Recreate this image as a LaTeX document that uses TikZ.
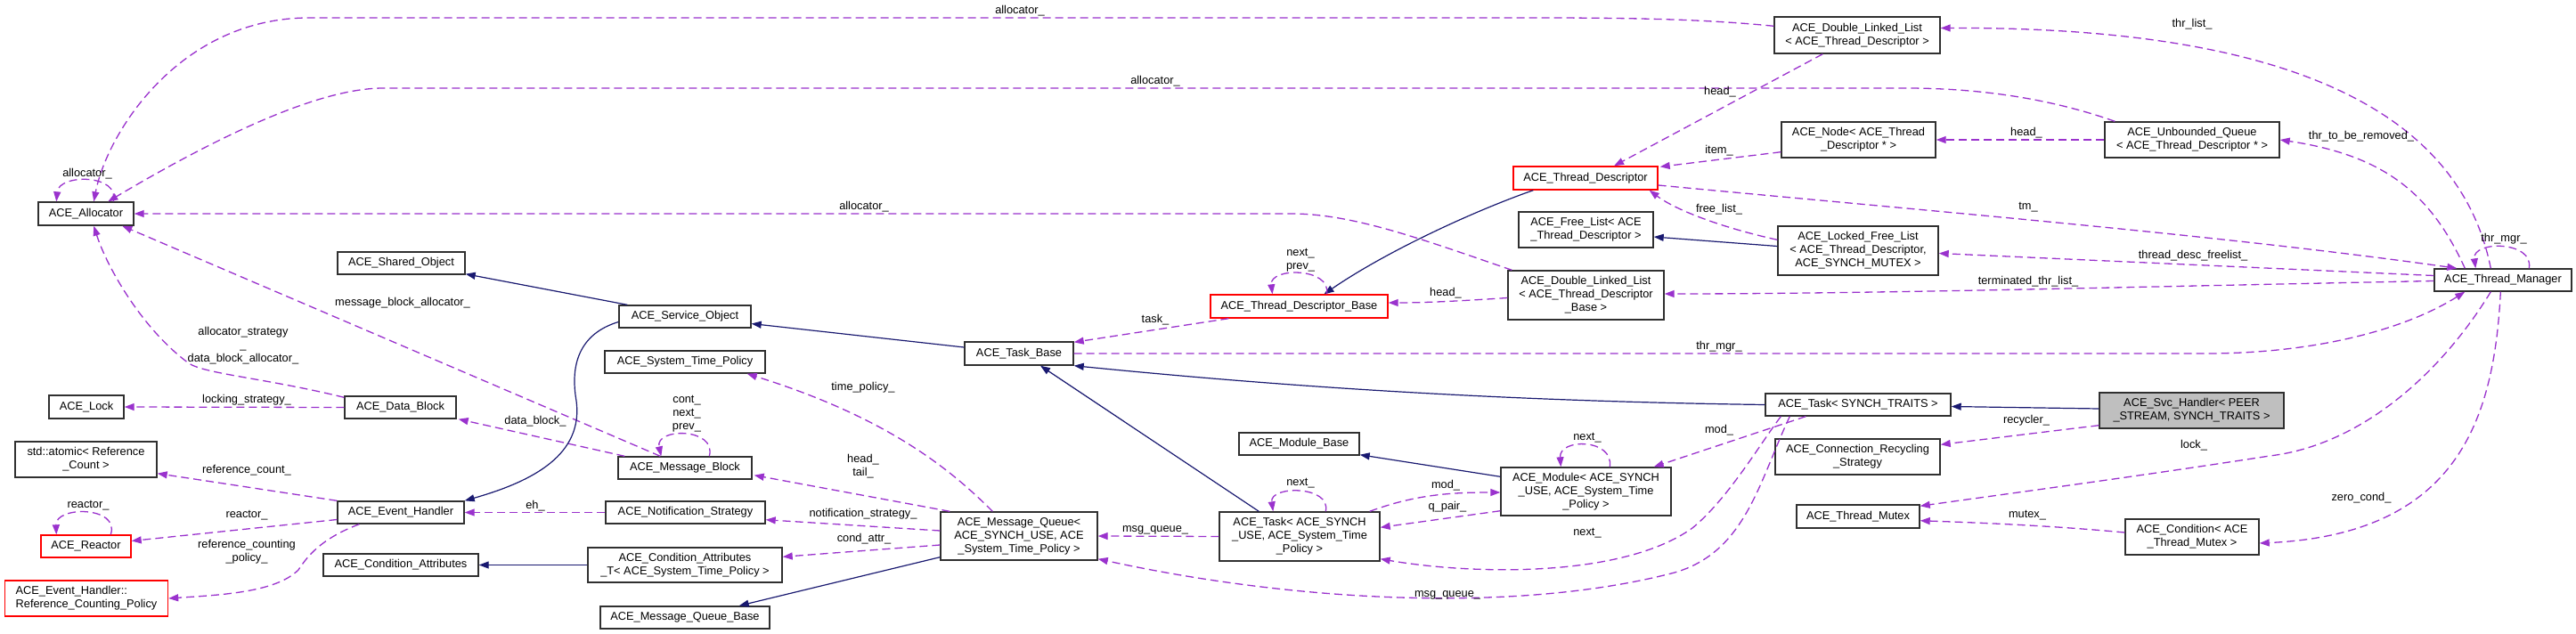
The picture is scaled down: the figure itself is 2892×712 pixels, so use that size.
\documentclass[tikz,border=0pt]{standalone}
\usepackage{fontspec}
\setmainfont{Liberation Sans}
\usetikzlibrary{arrows.meta,calc}
\definecolor{purp}{HTML}{9A32CD}
\definecolor{navyb}{HTML}{191970}
\definecolor{bord}{HTML}{303030}
\definecolor{gfill}{HTML}{BFBFBF}
\newcommand{\dxfont}{\fontsize{12.8pt}{15pt}\selectfont}
\tikzset{
  bx/.style={draw=bord, line width=1.4pt, inner sep=0pt, align=center, font=\dxfont, fill=white},
  redbx/.style={bx, draw=red},
  lab/.style={inner sep=0pt, align=center, font=\dxfont},
  ref/.style={draw=purp, line width=1.3pt, dash pattern=on 9pt off 5pt, -{Triangle[length=11pt,width=8pt]}},
  inh/.style={draw=navyb, line width=1.2pt, -{Triangle[length=11pt,width=8pt]}}
}
\begin{document}
\begin{tikzpicture}[x=1pt,y=-1pt]
\useasboundingbox (0,0) rectangle (2892,712);
% nodes
\node[bx, minimum width=107pt, minimum height=26pt] (alloc) at (96.5,240) {ACE\_Allocator};
\node[bx, minimum width=143pt, minimum height=25pt] (shared) at (450.5,295.5) {ACE\_Shared\_Object};
\node[bx, minimum width=148pt, minimum height=25pt] (service) at (769,355.5) {ACE\_Service\_Object};
\node[bx, minimum width=84pt, minimum height=26pt] (lock) at (97,457) {ACE\_Lock};
\node[bx, minimum width=125pt, minimum height=25pt] (datablock) at (449.5,457.5) {ACE\_Data\_Block};
\node[bx, minimum width=159pt, minimum height=40pt] (atomic) at (96.5,516) {std::atomic< Reference\\\_Count >};
\node[bx, minimum width=142pt, minimum height=25pt] (evh) at (450,575.5) {ACE\_Event\_Handler};
\node[redbx, minimum width=101pt, minimum height=25pt] (reactor) at (96.5,613.5) {ACE\_Reactor};
\node[redbx, minimum width=183pt, minimum height=40pt, align=left] (rcp) at (97,672) {ACE\_Event\_Handler::\\Reference\_Counting\_Policy};
\node[bx, minimum width=174pt, minimum height=25pt] (condattr) at (450,634.5) {ACE\_Condition\_Attributes};
\node[bx, minimum width=180pt, minimum height=25pt] (stp) at (769,406.5) {ACE\_System\_Time\_Policy};
\node[bx, minimum width=150pt, minimum height=25pt] (msgblock) at (769,525.5) {ACE\_Message\_Block};
\node[bx, minimum width=179pt, minimum height=25pt] (notif) at (769.5,575.5) {ACE\_Notification\_Strategy};
\node[bx, minimum width=218pt, minimum height=39pt] (condattrT) at (769,634.5) {ACE\_Condition\_Attributes\\\_T< ACE\_System\_Time\_Policy >};
\node[bx, minimum width=190pt, minimum height=25pt] (mqbase) at (769,693.5) {ACE\_Message\_Queue\_Base};
\node[bx, minimum width=122pt, minimum height=26pt] (taskbase) at (1144,397) {ACE\_Task\_Base};
\node[bx, minimum width=176pt, minimum height=54pt] (mq) at (1144,602) {ACE\_Message\_Queue<\\ACE\_SYNCH\_USE, ACE\\\_System\_Time\_Policy >};
\node[redbx, minimum width=199pt, minimum height=26pt] (tdb) at (1458.5,344) {ACE\_Thread\_Descriptor\_Base};
\node[bx, minimum width=135pt, minimum height=25pt] (modbase) at (1458.5,498.5) {ACE\_Module\_Base};
\node[bx, minimum width=180pt, minimum height=55pt] (taskS) at (1459,602.5) {ACE\_Task< ACE\_SYNCH\\\_USE, ACE\_System\_Time\\\_Policy >};
\node[redbx, minimum width=162pt, minimum height=26pt] (td) at (1780,200) {ACE\_Thread\_Descriptor};
\node[bx, minimum width=151pt, minimum height=40pt] (freelist) at (1780.5,258) {ACE\_Free\_List< ACE\\\_Thread\_Descriptor >};
\node[bx, minimum width=175pt, minimum height=55pt] (dllb) at (1780.5,331.5) {ACE\_Double\_Linked\_List\\< ACE\_Thread\_Descriptor\\\_Base >};
\node[bx, minimum width=191pt, minimum height=54pt] (module) at (1780.5,552) {ACE\_Module< ACE\_SYNCH\\\_USE, ACE\_System\_Time\\\_Policy >};
\node[bx, minimum width=186pt, minimum height=41pt] (dlltd) at (2085,39.5) {ACE\_Double\_Linked\_List\\< ACE\_Thread\_Descriptor >};
\node[bx, minimum width=173pt, minimum height=40pt] (node) at (2086.5,157) {ACE\_Node< ACE\_Thread\\\_Descriptor * >};
\node[bx, minimum width=180pt, minimum height=55pt] (lfl) at (2086,281.5) {ACE\_Locked\_Free\_List\\< ACE\_Thread\_Descriptor,\\ ACE\_SYNCH\_MUTEX >};
\node[bx, minimum width=208pt, minimum height=25pt] (taskT) at (2086,454.5) {ACE\_Task< SYNCH\_TRAITS >};
\node[bx, minimum width=185pt, minimum height=40pt] (crs) at (2085.5,513) {ACE\_Connection\_Recycling\\\_Strategy};
\node[bx, minimum width=138pt, minimum height=26pt] (mutex) at (2086,580) {ACE\_Thread\_Mutex};
\node[bx, minimum width=196pt, minimum height=40pt] (uq) at (2461,157) {ACE\_Unbounded\_Queue\\< ACE\_Thread\_Descriptor * >};
\node[bx, fill=gfill, minimum width=207pt, minimum height=40pt] (svc) at (2460.5,461) {ACE\_Svc\_Handler< PEER\\\_STREAM, SYNCH\_TRAITS >};
\node[bx, minimum width=150pt, minimum height=40pt] (cond) at (2461,603) {ACE\_Condition< ACE\\\_Thread\_Mutex >};
\node[bx, minimum width=154pt, minimum height=25pt] (tm) at (2810,314.5) {ACE\_Thread\_Manager};
% edges
\draw[ref] ($(dlltd.north west)+(0,11)$) .. controls (1900,20) and (1800,20) .. (1700,20) -- (344,20) .. controls (200,22) and (120,150) .. ($(alloc.north west)+(63,0)$);
\draw[ref] ($(uq.north west)+(12,0)$) .. controls (2300,110) and (2220,99) .. (2140,99) -- (430,99) .. controls (360,99) and (250,150) .. ($(alloc.north west)+(79,0)$);
\draw[ref] ($(alloc.north west)+(85,0)$) .. controls (135,195) and (66,195) .. ($(alloc.north west)+(21,0)$);
\draw[ref] ($(dllb.north west)+(5,0)$) .. controls (1600,270) and (1520,240) .. (1450,240) -- (alloc.east);
\draw[ref] ($(msgblock.north west)+(48,0)$) -- ($(alloc.south west)+(95,0)$);
\draw[ref] ($(msgblock.north west)+(103,0)$) .. controls (805,480) and (735,480) .. ($(msgblock.north west)+(49,0)$);
\draw[ref] ($(datablock.north west)+(0,2)$) .. controls (300,425) and (230,420) .. (212,408) .. controls (160,370) and (120,300) .. ($(alloc.south west)+(63,0)$);
\draw[ref] (datablock.west) -- (lock.east);
\draw[ref] ($(msgblock.north west)+(8,0)$) -- ($(datablock.south east)+(2,0)$);
\draw[ref] (evh.north west) -- ($(atomic.south east)+(0,-5)$);
\draw[ref] ($(evh.west)+(0,8)$) -- ($(reactor.east)+(0,-6)$);
\draw[ref] ($(reactor.north west)+(79,0)$) .. controls (135,568) and (62,568) .. ($(reactor.north west)+(18,0)$);
\draw[ref] ($(evh.south west)+(25,0)$) .. controls (360,605) and (345,625) .. (335,640) .. controls (310,665) and (250,668) .. (rcp.east);
\draw[ref] (notif.west) -- (evh.east);
\draw[inh] (condattrT.west) -- (condattr.east);
\draw[inh] ($(service.north west)+(10,0)$) -- ($(shared.south east)+(0,-1)$);
\draw[inh] ($(service.west)+(0,6)$) .. controls (650,375) and (640,410) .. (647,450) .. controls (655,510) and (600,540) .. (evh.north east);
\draw[ref] ($(mq.north west)+(59,0)$) .. controls (1070,530) and (1000,470) .. ($(stp.south east)+(-21,0)$);
\draw[ref] ($(mq.north west)+(11,0)$) -- ($(msgblock.south east)+(2,-5)$);
\draw[ref] ($(mq.west)+(0,-6)$) -- ($(notif.south east)+(0,-5)$);
\draw[ref] ($(mq.west)+(0,10)$) -- ($(condattrT.north east)+(0,11)$);
\draw[inh] ($(mq.south west)+(0,-4)$) -- ($(mqbase.north east)+(-35,0)$);
\draw[inh] ($(taskbase.west)+(0,-7)$) -- ($(service.east)+(0,8)$);
\draw[ref] ($(tdb.south west)+(21,0)$) -- ($(taskbase.north east)+(0,1)$);
\draw[ref] (taskbase.east) -- (2476,397) .. controls (2600,397) and (2700,370) .. ($(tm.south west)+(35,0)$);
\draw[inh] (taskT.west) .. controls (1650,450) and (1400,430) .. (taskbase.south east);
\draw[inh] ($(taskS.north west)+(45,0)$) -- ($(taskbase.south)+(24,0)$);
\draw[ref] (taskS.west) -- (mq.east);
\draw[ref] ($(taskS.north west)+(120,0)$) .. controls (1495,545) and (1425,545) .. ($(taskS.north west)+(61,0)$);
\draw[inh] ($(module.north west)+(0,11)$) -- ($(modbase.south east)+(0,-1)$);
\draw[ref] ($(taskS.north east)+(-12,0)$) .. controls (1590,555) and (1630,553) .. ($(module.west)+(0,1)$);
\draw[ref] ($(module.south west)+(0,-6)$) -- ($(taskS.north east)+(0,18)$);
\draw[ref] ($(module.north west)+(123,0)$) .. controls (1812,492) and (1750,492) .. ($(module.north west)+(68,0)$);
\draw[ref] ($(taskT.south west)+(46,0)$) -- ($(module.north east)+(-20,0)$);
\draw[ref] ($(taskT.south west)+(18,0)$) .. controls (1975,500) and (1940,560) .. (1900,593) .. controls (1820,650) and (1650,645) .. ($(taskS.south east)+(0,-3)$);
\draw[ref] ($(taskT.south west)+(28,0)$) .. controls (1975,540) and (1960,620) .. (1880,643) .. controls (1700,690) and (1450,675) .. ($(mq.south east)+(0,-2)$);
\draw[ref] ($(dlltd.south west)+(55,0)$) -- ($(td.north)+(32,0)$);
\draw[ref] ($(node.south west)+(0,-7)$) -- ($(td.north east)+(2,1)$);
\draw[ref] ($(td.east)+(0,8)$) .. controls (2200,240) and (2500,265) .. ($(tm.north west)+(26,0)$);
\draw[ref] ($(lfl.north west)+(0,16)$) .. controls (1930,255) and (1880,235) .. ($(td.south east)+(-10,0)$);
\draw[inh] ($(lfl.west)+(0,-5)$) -- ($(freelist.east)+(0,8)$);
\draw[inh] ($(td.south west)+(23,0)$) .. controls (1660,235) and (1560,280) .. ($(tdb.north)+(28,0)$);
\draw[ref] ($(tdb.north)+(31,0)$) .. controls (1495,300) and (1425,300) .. ($(tdb.north)+(-30,0)$);
\draw[ref] ($(dllb.west)+(0,3)$) .. controls (1640,338) and (1600,340) .. ($(tdb.east)+(0,-4)$);
\draw[ref] ($(tm.north west)+(64,0)$) .. controls (2760,120) and (2560,30) .. ($(dlltd.east)+(0,-8)$);
\draw[ref] (uq.west) -- (node.east);
\draw[ref] ($(tm.north west)+(35,0)$) .. controls (2730,220) and (2680,175) .. (uq.east);
\draw[ref] ($(tm.west)+(0,-5)$) -- ($(lfl.east)+(0,3)$);
\draw[ref] ($(tm.west)+(0,1)$) .. controls (2400,322) and (2100,330) .. ($(dllb.east)+(0,-1.5)$);
\draw[ref] ($(tm.north west)+(107,0)$) .. controls (2845,270) and (2775,270) .. ($(tm.north west)+(47,0)$);
\draw[inh] ($(svc.west)+(0,-2)$) -- ($(taskT.east)+(0,2)$);
\draw[ref] ($(svc.south west)+(0,-4)$) -- ($(crs.north east)+(0,7)$);
\draw[ref] ($(tm.south west)+(64,0)$) .. controls (2740,420) and (2650,500) .. (2548,512) .. controls (2400,535) and (2250,555) .. ($(mutex.north east)+(0,2)$);
\draw[ref] ($(cond.west)+(0,-5)$) .. controls (2300,590) and (2220,587) .. ($(mutex.south east)+(0,-9)$);
\draw[ref] ($(tm.south west)+(75,0)$) .. controls (2800,470) and (2760,600) .. ($(cond.east)+(0,7)$);
% labels
\node[lab] (l1) at (1145,12) {allocator\_};
\node[lab] (l2) at (1297,91) {allocator\_};
\node[lab] (l3) at (98,195) {allocator\_};
\node[lab] (l4) at (970,232) {allocator\_};
\node[lab] (l5) at (452,340) {message\_block\_allocator\_};
\node[lab] (l6) at (273,388) {allocator\_strategy\\\_\\data\_block\_allocator\_};
\node[lab] (l7) at (277,449) {locking\_strategy\_};
\node[lab] (l8) at (601,473) {data\_block\_};
\node[lab] (l9) at (277,528) {reference\_count\_};
\node[lab] (l10) at (99,568) {reactor\_};
\node[lab] (l11) at (277,579) {reactor\_};
\node[lab] (l12) at (277,620) {reference\_counting\\\_policy\_};
\node[lab] (l13) at (601,568) {eh\_};
\node[lab] (l14) at (771,465) {cont\_\\next\_\\prev\_};
\node[lab] (l15) at (969,435) {time\_policy\_};
\node[lab] (l16) at (969,524) {head\_\\tail\_};
\node[lab] (l17) at (969,577) {notification\_strategy\_};
\node[lab] (l18) at (970,605) {cond\_attr\_};
\node[lab] (l19) at (1297,359) {task\_};
\node[lab] (l20) at (1930,389) {thr\_mgr\_};
\node[lab] (l21) at (1297,595) {msg\_queue\_};
\node[lab] (l22) at (1460,543) {next\_};
\node[lab] (l23) at (1623,545) {mod\_};
\node[lab] (l24) at (1625,569) {q\_pair\_};
\node[lab] (l25) at (1782,492) {next\_};
\node[lab] (l26) at (1930,483) {mod\_};
\node[lab] (l27) at (1782,599) {next\_};
\node[lab] (l28) at (1625,668) {msg\_queue\_};
\node[lab] (l29) at (1931,103) {head\_};
\node[lab] (l30) at (1930,169) {item\_};
\node[lab] (l31) at (2277,233) {tm\_};
\node[lab] (l32) at (1930,235) {free\_list\_};
\node[lab] (l33) at (1460,292) {next\_\\prev\_};
\node[lab] (l34) at (1623,329) {head\_};
\node[lab] (l35) at (2461,27) {thr\_list\_};
\node[lab] (l36) at (2275,149) {head\_};
\node[lab] (l37) at (2651,153) {thr\_to\_be\_removed\_};
\node[lab] (l38) at (2462,287) {thread\_desc\_freelist\_};
\node[lab] (l39) at (2277,316) {terminated\_thr\_list\_};
\node[lab] (l40) at (2811,268) {thr\_mgr\_};
\node[lab] (l41) at (2275,472) {recycler\_};
\node[lab] (l42) at (2463,500) {lock\_};
\node[lab] (l43) at (2276,579) {mutex\_};
\node[lab] (l44) at (2651,559) {zero\_cond\_};
\end{tikzpicture}
\end{document}
